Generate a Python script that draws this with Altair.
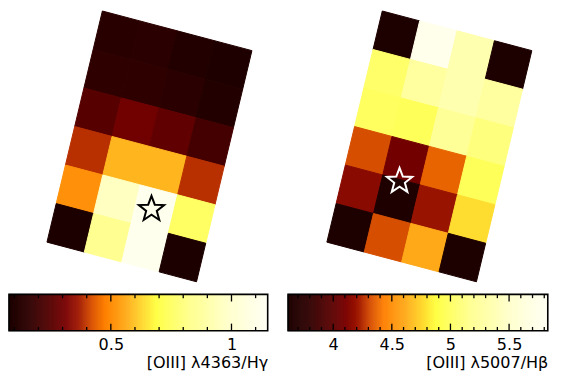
import math
import altair as alt
import pandas as pd

# ---------------- data ----------------
# spaxel maps: 6 rows (top to bottom) x 4 columns (left to right), in the rotated frame
LEFT_MAP = [
    [0.13, 0.14, 0.11, 0.09],
    [0.16, 0.16, 0.14, 0.11],
    [0.25, 0.30, 0.27, 0.21],
    [0.39, 0.58, 0.58, 0.39],
    [0.51, 0.96, 1.12, 0.75],
    [0.08, 0.83, 1.12, 0.08],
]
RIGHT_MAP = [
    [3.62, 5.76, 5.34, 3.62],
    [5.03, 5.25, 5.34, 5.25],
    [4.99, 4.97, 5.21, 5.10],
    [4.32, 4.08, 4.37, 4.97],
    [4.15, 3.64, 4.19, 4.77],
    [3.62, 4.32, 4.61, 3.62],
]
# star position (column, row) in spaxel units from the grid corner
LEFT_STAR = [2.43, 4.52]
RIGHT_STAR = [1.46, 4.04]

LEFT_RANGE = [0.078, 1.15]
RIGHT_RANGE = [3.615, 5.83]
LEFT_MINOR = [0.1, 0.2, 0.3, 0.4, 0.6, 0.7, 0.8, 0.9, 1.1]
LEFT_MAJOR = [0.5, 1.0]
RIGHT_MINOR = [3.7, 3.8, 3.9, 4.1, 4.2, 4.3, 4.4, 4.6, 4.7, 4.8, 4.9,
               5.1, 5.2, 5.3, 5.4, 5.6, 5.7, 5.8]
RIGHT_MAJOR = [4.0, 4.5, 5.0, 5.5]
LEFT_TITLE = "[OIII] λ4363/Hγ"
RIGHT_TITLE = "[OIII] λ5007/Hβ"

# colour table (fraction along bar -> colour)
CMAP_FRACS = [0.0, 0.08, 0.16, 0.22, 0.27, 0.32, 0.37, 0.45, 0.57, 0.70, 0.85, 1.0]
CMAP_COLORS = ["#1c0000", "#300000", "#560000", "#780000", "#a01800", "#d85000",
               "#ff8000", "#ffa818", "#ffff40", "#ffff90", "#ffffcc", "#fffff4"]

# ---------------- layout (style) ----------------
K = 0.95
A = (39.35, 10.43)    # column step vector (reference px)
B = (-9.72, 40.55)    # row step vector
ORIGIN_L = (99.3, 0.0)
ORIGIN_R = (391.5, 0.0)
COL_L = (1.0, 273.3)
COL_R = (292.3, 565.7)
MAP_H = 290.0
CB_TOP = 296.7
CB_H = 38.3
FONT = "DejaVu Sans"

CS = 20.0
corners = [(-(A[0] + B[0]) / 2, -(A[1] + B[1]) / 2),
           ((A[0] - B[0]) / 2, (A[1] - B[1]) / 2),
           ((A[0] + B[0]) / 2, (A[1] + B[1]) / 2),
           ((-A[0] + B[0]) / 2, (-A[1] + B[1]) / 2)]
CELL_PATH = "M" + "L".join(f"{x / CS:.4f},{y / CS:.4f}" for x, y in corners) + "Z"
CELL_SIZE = (2 * CS * K) ** 2

pts = []
for i in range(10):
    r = 1.0 if i % 2 == 0 else 0.42
    ang = -math.pi / 2 + i * math.pi / 5
    pts.append((r * math.cos(ang), r * math.sin(ang)))
STAR_PATH = "M" + "L".join(f"{x:.4f},{y:.4f}" for x, y in pts) + "Z"
STAR_SIZE = (2 * 14.0 * K) ** 2


def cscale(vr):
    lo, hi = vr
    return alt.Scale(domain=[lo + f * (hi - lo) for f in CMAP_FRACS],
                     range=CMAP_COLORS, interpolate="rgb")


def map_panel(grid, origin, xdom, star, vr, star_color):
    df = pd.DataFrame([{"row": r, "col": c, "v": val}
                       for r, rv in enumerate(grid) for c, val in enumerate(rv)])
    xs = alt.Scale(domain=list(xdom), nice=False, zero=False)
    ys = alt.Scale(domain=[0, MAP_H], nice=False, zero=False, reverse=True)
    ex = f"{origin[0]} + (datum.col + 0.5) * {A[0]} + (datum.row + 0.5) * {B[0]}"
    ey = f"{origin[1]} + (datum.col + 0.5) * {A[1]} + (datum.row + 0.5) * {B[1]}"
    sc = cscale(vr)
    cells = alt.Chart(df).transform_calculate(px=ex, py=ey).mark_point(
        shape=CELL_PATH, size=CELL_SIZE, filled=True, opacity=1, strokeWidth=1
    ).encode(
        x=alt.X("px:Q", scale=xs, axis=None),
        y=alt.Y("py:Q", scale=ys, axis=None),
        fill=alt.Fill("v:Q", scale=sc, legend=None),
        stroke=alt.Stroke("v:Q", scale=sc, legend=None),
    )
    sdf = pd.DataFrame([{"col": star[0], "row": star[1]}])
    sx = f"{origin[0]} + datum.col * {A[0]} + datum.row * {B[0]}"
    sy = f"{origin[1]} + datum.col * {A[1]} + datum.row * {B[1]}"
    st = alt.Chart(sdf).transform_calculate(px=sx, py=sy).mark_point(
        shape=STAR_PATH, size=STAR_SIZE, filled=False, stroke=star_color,
        strokeWidth=2, opacity=1
    ).encode(
        x=alt.X("px:Q", scale=xs, axis=None),
        y=alt.Y("py:Q", scale=ys, axis=None),
    )
    return alt.layer(cells, st).properties(width=(xdom[1] - xdom[0]) * K,
                                           height=MAP_H * K)


def colorbar(vr, minor, major, title, xdom):
    lo, hi = vr
    n = 256
    step = (hi - lo) / n
    sc = cscale(vr)
    xs = alt.Scale(domain=[lo, hi], nice=False, zero=False)
    H = CB_H * K
    ax = alt.Axis(
        values=major, format="~g", ticks=False, domain=False,
        grid=False, labelPadding=6, labelFontSize=16, labelColor="black",
        labelFlush=False, labelOverlap=False, labelFont=FONT,
        title=title, titleAnchor="end", titleAlign="right",
        titleFontSize=16, titleFontWeight="normal", titleColor="black",
        titlePadding=2, titleFont=FONT)
    grad = alt.Chart(alt.sequence(0, n, 1, as_="i")).transform_calculate(
        v0=f"{lo} + datum.i * {step}",
        v1=f"{lo} + (datum.i + 1) * {step}",
        vm=f"{lo} + (datum.i + 0.5) * {step}",
    ).mark_rect(strokeWidth=0.6).encode(
        x=alt.X("v0:Q", scale=xs, axis=ax),
        x2="v1:Q",
        fill=alt.Fill("vm:Q", scale=sc, legend=None),
        stroke=alt.Stroke("vm:Q", scale=sc, legend=None),
    )
    layers = [grad]
    for vals, ln in ((minor, 4.0 * K), (major, 7.5 * K)):
        tdf = pd.DataFrame({"t": vals})
        layers.append(alt.Chart(tdf).mark_rule(color="black", strokeWidth=1.3).encode(
            x=alt.X("t:Q", scale=xs, axis=ax), y=alt.value(0), y2=alt.value(ln)))
        layers.append(alt.Chart(tdf).mark_rule(color="black", strokeWidth=1.3).encode(
            x=alt.X("t:Q", scale=xs, axis=ax), y=alt.value(H), y2=alt.value(H - ln)))
    bdf = pd.DataFrame({"lo": [lo], "hi": [hi]})
    layers.append(alt.Chart(bdf).mark_rect(filled=False, stroke="black", strokeWidth=1.6).encode(
        x=alt.X("lo:Q", scale=xs, axis=ax), x2="hi:Q"))
    return alt.layer(*layers).properties(width=(xdom[1] - xdom[0]) * K, height=H)


left = alt.vconcat(
    map_panel(LEFT_MAP, ORIGIN_L, COL_L, LEFT_STAR, LEFT_RANGE, "black"),
    colorbar(LEFT_RANGE, LEFT_MINOR, LEFT_MAJOR, LEFT_TITLE, COL_L),
    spacing=(CB_TOP - MAP_H) * K,
).resolve_scale(fill="independent", stroke="independent")
right = alt.vconcat(
    map_panel(RIGHT_MAP, ORIGIN_R, COL_R, RIGHT_STAR, RIGHT_RANGE, "white"),
    colorbar(RIGHT_RANGE, RIGHT_MINOR, RIGHT_MAJOR, RIGHT_TITLE, COL_R),
    spacing=(CB_TOP - MAP_H) * K,
).resolve_scale(fill="independent", stroke="independent")

chart = alt.hconcat(left, right, spacing=(COL_R[0] - COL_L[1]) * K).resolve_scale(
    fill="independent", stroke="independent"
).properties(padding=0).configure(font=FONT).configure_view(stroke=None)

chart.save("out.html", embed_options={"renderer": "svg", "actions": False})
